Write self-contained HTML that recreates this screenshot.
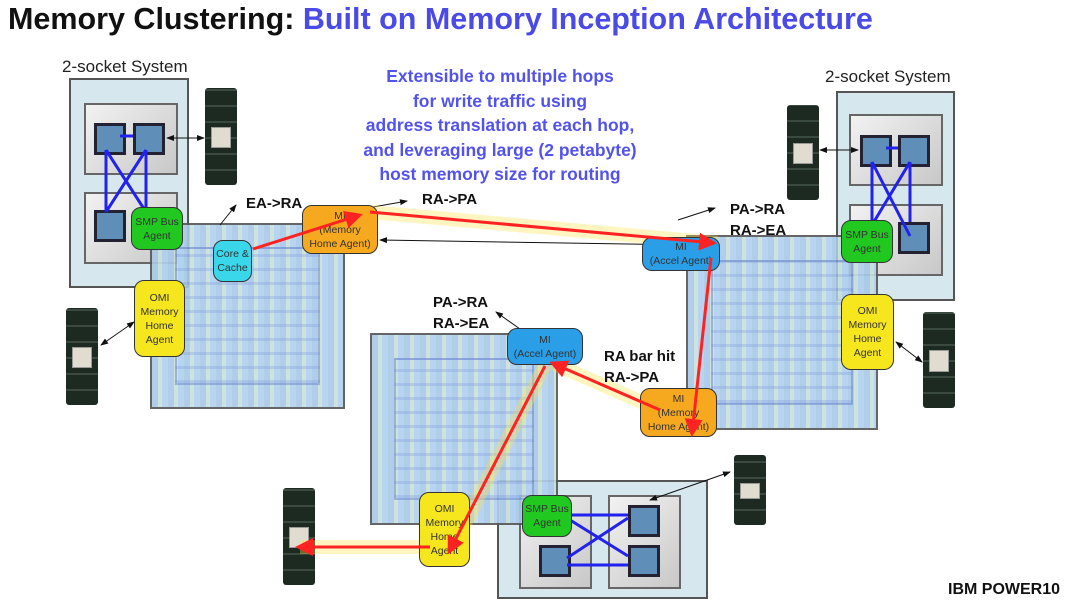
<!DOCTYPE html>
<html><head><style>
body{margin:0;width:1080px;height:602px;background:#fff;position:relative;overflow:hidden;font-family:"Liberation Sans",sans-serif}
.a{position:absolute}
.t{font-weight:bold;font-size:15px;color:#111}
.node{position:absolute;border:1.5px solid #333;border-radius:10px;display:flex;align-items:center;justify-content:center;text-align:center;font-size:10.5px;line-height:14px;color:#333}
.die{position:absolute;border:2px solid #555;background:repeating-linear-gradient(90deg,#a8c8e8 0 6px,#c8e0d8 6px 10px,#b0d0f0 10px 16px),#b8d4ec;opacity:.9}
.die::after{content:"";position:absolute;inset:12%;border:2px solid rgba(90,120,200,.5);background:repeating-linear-gradient(0deg,rgba(120,150,220,.35) 0 3px,transparent 3px 14px)}
.sys{position:absolute;background:#d6e8ee;border:2px solid #555}
.pan{position:absolute;background:linear-gradient(135deg,#f2f2f2,#c8c8c8);border:2px solid #666}
.chip{position:absolute;width:26px;height:26px;background:#5f8fb8;border:3px solid #223}
.dimm{position:absolute;width:32px;background:repeating-linear-gradient(0deg,#1d2a22 0 14px,#3a4a40 14px 16px);border-radius:3px}
.dimm::after{content:"";position:absolute;left:6px;right:6px;top:40%;height:20%;background:#e0ddd0;border:1px solid #999}
</style></head><body>
<div class="a" style="left:8px;top:2px;font-size:30.5px;font-weight:bold;color:#111;white-space:nowrap">Memory Clustering: <span style="color:#4a4ae6">Built on Memory Inception Architecture</span></div>
<div class="a" style="left:62px;top:57px;font-size:17px;color:#222">2-socket System</div>
<div class="a" style="left:825px;top:67px;font-size:17px;color:#222">2-socket System</div>
<div class="a" style="left:320px;top:64px;width:360px;text-align:center;font-size:17.5px;font-weight:bold;color:#5252ee;line-height:24.5px">Extensible to multiple hops<br>for write traffic using<br>address translation at each hop,<br>and leveraging large (2 petabyte)<br>host memory size for routing</div>

<div class="sys" style="left:69px;top:78px;width:116px;height:206px"></div>
<div class="pan" style="left:84px;top:103px;width:90px;height:68px"></div>
<div class="pan" style="left:84px;top:192px;width:90px;height:68px"></div>
<div class="chip" style="left:94px;top:123px"></div><div class="chip" style="left:133px;top:123px"></div><div class="chip" style="left:94px;top:210px"></div>
<div class="sys" style="left:836px;top:91px;width:115px;height:206px"></div>
<div class="pan" style="left:849px;top:114px;width:90px;height:68px"></div>
<div class="pan" style="left:849px;top:204px;width:90px;height:68px"></div>
<div class="chip" style="left:860px;top:135px"></div><div class="chip" style="left:898px;top:135px"></div><div class="chip" style="left:898px;top:222px"></div>
<div class="sys" style="left:497px;top:480px;width:207px;height:115px"></div>
<div class="pan" style="left:519px;top:495px;width:69px;height:90px"></div>
<div class="pan" style="left:608px;top:495px;width:69px;height:90px"></div>
<div class="chip" style="left:539px;top:545px"></div><div class="chip" style="left:628px;top:505px"></div><div class="chip" style="left:628px;top:545px"></div>

<div class="die" style="left:150px;top:223px;width:191px;height:182px"></div>
<div class="die" style="left:370px;top:333px;width:184px;height:188px"></div>
<div class="die" style="left:686px;top:235px;width:188px;height:191px"></div>

<div class="dimm" style="left:205px;top:88px;height:97px"></div>
<div class="dimm" style="left:66px;top:308px;height:97px"></div>
<div class="dimm" style="left:787px;top:105px;height:95px"></div>
<div class="dimm" style="left:923px;top:312px;height:96px"></div>
<div class="dimm" style="left:283px;top:488px;height:97px"></div>
<div class="dimm" style="left:734px;top:455px;height:70px"></div>

<svg class="a" style="left:0;top:0" width="1080" height="602">
<defs>
<marker id="k" markerWidth="8" markerHeight="8" refX="7" refY="4" orient="auto"><path d="M0,1L8,4L0,7z" fill="#111"/></marker>
<marker id="k2" markerWidth="8" markerHeight="8" refX="1" refY="4" orient="auto"><path d="M8,1L0,4L8,7z" fill="#111"/></marker></defs>
<g stroke="#2222ee" stroke-width="3"><line x1="106" y1="150" x2="106" y2="212"/><line x1="146" y1="150" x2="146" y2="212"/><line x1="106" y1="150" x2="146" y2="212"/><line x1="146" y1="150" x2="106" y2="212"/><line x1="120" y1="136" x2="133" y2="136"/>
<line x1="872" y1="162" x2="872" y2="238"/><line x1="910" y1="162" x2="910" y2="222"/><line x1="872" y1="162" x2="910" y2="236"/><line x1="910" y1="162" x2="872" y2="225"/><line x1="886" y1="148" x2="898" y2="148"/>
<line x1="570" y1="515" x2="628" y2="515"/><line x1="570" y1="520" x2="628" y2="556"/><line x1="567" y1="558" x2="628" y2="518"/><line x1="567" y1="565" x2="628" y2="565"/></g>
<g stroke="#111" stroke-width="1"><line x1="167" y1="138" x2="204" y2="138" marker-end="url(#k)" marker-start="url(#k2)"/>
<line x1="101" y1="345" x2="134" y2="322" marker-end="url(#k)" marker-start="url(#k2)"/>
<line x1="820" y1="150" x2="858" y2="150" marker-end="url(#k)" marker-start="url(#k2)"/>
<line x1="896" y1="342" x2="922" y2="362" marker-end="url(#k)" marker-start="url(#k2)"/>
<line x1="650" y1="500" x2="730" y2="472" marker-end="url(#k)" marker-start="url(#k2)"/>
<line x1="220" y1="225" x2="236" y2="205" marker-end="url(#k)"/>
<line x1="373" y1="207" x2="407" y2="201" marker-end="url(#k)"/>
<line x1="678" y1="220" x2="715" y2="208" marker-end="url(#k)"/>
<line x1="520" y1="329" x2="496" y2="312" marker-end="url(#k)"/>
<line x1="690" y1="245" x2="380" y2="240" marker-end="url(#k)"/></g>
<g stroke="#ffe24a" stroke-width="14" opacity=".35" fill="none"><path d="M370,212L718,243M660,410L550,362M545,365L450,553M430,547L300,547"/></g>
</svg>

<div class="node" style="left:213px;top:240px;width:37px;height:40px;background:#3ad6ea">Core &amp;<br>Cache</div>
<div class="node" style="left:302px;top:205px;width:74px;height:47px;background:#f6a91e">MI<br>(Memory<br>Home Agent)</div>
<div class="node" style="left:131px;top:207px;width:50px;height:41px;background:#20c820">SMP Bus<br>Agent</div>
<div class="node" style="left:134px;top:280px;width:49px;height:75px;background:#f6e61e">OMI<br>Memory<br>Home<br>Agent</div>
<div class="node" style="left:642px;top:237px;width:76px;height:32px;background:#2a9ee6">MI<br>(Accel Agent)</div>
<div class="node" style="left:841px;top:220px;width:50px;height:41px;background:#20c820">SMP Bus<br>Agent</div>
<div class="node" style="left:841px;top:294px;width:51px;height:74px;background:#f6e61e">OMI<br>Memory<br>Home<br>Agent</div>
<div class="node" style="left:507px;top:328px;width:74px;height:35px;background:#2a9ee6">MI<br>(Accel Agent)</div>
<div class="node" style="left:640px;top:388px;width:75px;height:47px;background:#f6a91e">MI<br>(Memory<br>Home Agent)</div>
<div class="node" style="left:419px;top:492px;width:49px;height:73px;background:#f6e61e">OMI<br>Memory<br>Home<br>Agent</div>
<div class="node" style="left:522px;top:495px;width:48px;height:40px;background:#20c820">SMP Bus<br>Agent</div>

<svg class="a" style="left:0;top:0" width="1080" height="602">
<defs><marker id="r" markerWidth="6" markerHeight="6" refX="5" refY="3" orient="auto"><path d="M0,0L6,3L0,6z" fill="#f22"/></marker></defs>
<g stroke="#f22" stroke-width="3" fill="none"><line x1="253" y1="249" x2="360" y2="215" marker-end="url(#r)"/>
<line x1="370" y1="212" x2="714" y2="243" marker-end="url(#r)"/>
<line x1="711" y1="258" x2="692" y2="434" marker-end="url(#r)"/>
<line x1="660" y1="410" x2="552" y2="363" marker-end="url(#r)"/>
<line x1="545" y1="366" x2="449" y2="552" marker-end="url(#r)"/>
<line x1="430" y1="547" x2="298" y2="547" marker-end="url(#r)"/></g>
</svg>

<div class="a t" style="left:246px;top:195px">EA-&gt;RA</div>
<div class="a t" style="left:422px;top:191px">RA-&gt;PA</div>
<div class="a t" style="left:730px;top:199px;line-height:21px">PA-&gt;RA<br>RA-&gt;EA</div>
<div class="a t" style="left:433px;top:292px;line-height:21px">PA-&gt;RA<br>RA-&gt;EA</div>
<div class="a t" style="left:604px;top:346px;line-height:21px">RA bar hit<br>RA-&gt;PA</div>
<div class="a" style="left:948px;top:581px;font-size:16px;font-weight:bold;color:#111">IBM POWER10</div>
</body></html>
